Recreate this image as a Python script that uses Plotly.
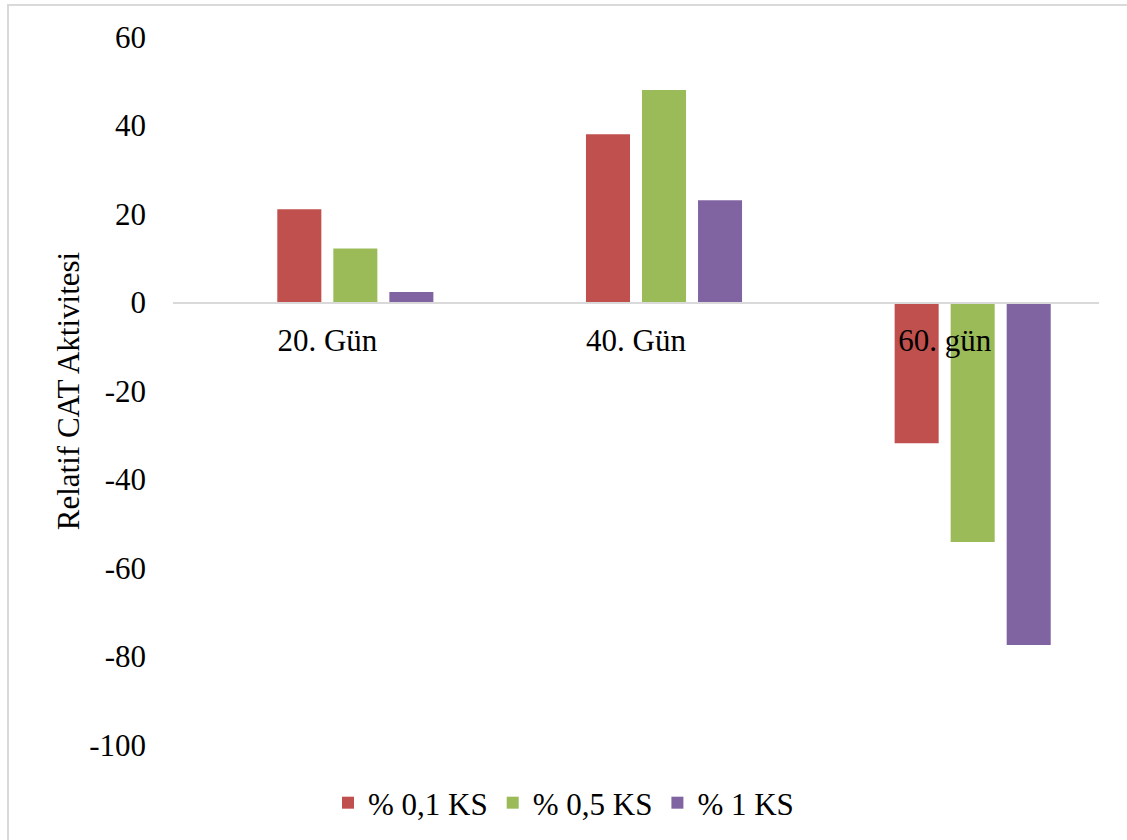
import plotly.graph_objects as go

# Relative CAT activity by sampling day and KS dose
days = ["20. Gün", "40. Gün", "60. gün"]
series_names = ["% 0,1 KS", "% 0,5 KS", "% 1 KS"]
ks_01 = [21.1, 38.0, -31.8]
ks_05 = [12.2, 48.0, -54.1]
ks_1 = [2.4, 23.1, -77.4]
y_ticks = [60, 40, 20, 0, -20, -40, -60, -80, -100]

colors = ["#C0504D", "#9BBB59", "#8064A2"]
y_min, y_max = -100, 60
serif = "Liberation Serif"
fsize = 31
txt = dict(family=serif, size=fsize, color="black")

fig = go.Figure()

# empty leading series keeps the bar slots in the original clustered layout
fig.add_trace(go.Bar(x=days, y=[None, None, None], showlegend=False,
                     hoverinfo="skip", marker_color="rgba(0,0,0,0)"))

for name, vals, col in zip(series_names, [ks_01, ks_05, ks_1], colors):
    fig.add_trace(go.Bar(x=days, y=vals, name=name, marker_color=col,
                         marker_line_width=0))

# place the category axis on the zero line
zero_pos = (0 - y_min) / (y_max - y_min)

fig.update_layout(
    width=1127, height=840,
    margin=dict(l=173, r=28, t=37, b=95, autoexpand=False),
    paper_bgcolor="white", plot_bgcolor="white",
    barmode="group", bargap=0.274, bargroupgap=0.214,
    font=txt,
    showlegend=True,
    legend=dict(orientation="h", x=0.5, xanchor="center", xref="container",
                y=0.044, yanchor="middle", yref="container",
                font=txt, itemwidth=30, traceorder="normal"),
    xaxis=dict(type="category", anchor="free", position=zero_pos,
               showline=True, linecolor="#d9d9d9", linewidth=2,
               showgrid=False, ticks="", ticklabelstandoff=10,
               tickfont=txt),
    yaxis=dict(range=[y_min, y_max], tickvals=y_ticks,
               ticktext=[str(v) for v in y_ticks],
               showgrid=False, zeroline=False, showline=False, ticks="",
               ticklabelstandoff=26, tickfont=txt,
               title=dict(text="Relatif CAT Aktivitesi", standoff=0,
                          font=txt)),
    shapes=[dict(type="rect", xref="paper", yref="paper",
                 x0=-(173 - 8) / 926, x1=1.2, y0=-0.3, y1=1 + (37 - 5) / 708,
                 line=dict(color="#d9d9d9", width=2), fillcolor="rgba(0,0,0,0)",
                 layer="below")],
)

fig.write_html("out.html")
